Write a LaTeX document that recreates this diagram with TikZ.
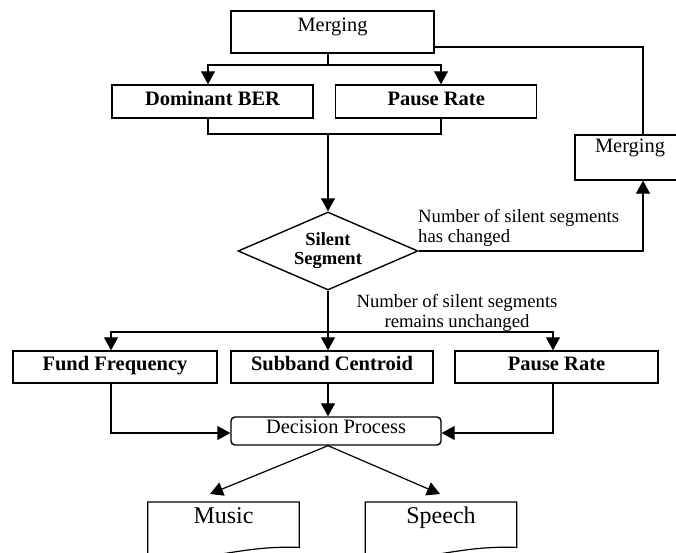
\documentclass[tikz,border=0pt]{standalone}
\usepackage{fontspec}
\setmainfont{Liberation Serif}
\usetikzlibrary{arrows.meta,shapes.geometric,calc}

\newcommand\fsz[2]{\fontsize{#1}{#2}\selectfont}

\begin{document}
\begin{tikzpicture}[x=1pt,y=-1pt,
  every node/.style={inner sep=0pt},
  conn/.style={line width=1.2pt},
  arr/.style={-{Triangle[width=14pt,length=13pt]}},
  box/.style={draw, line width=1.4pt, rectangle},
  plainbox/.style={box, font=\fsz{20.4}{24}},
  boldbox/.style={box, font=\fsz{20.5}{24}\bfseries,
    text height=12pt, text depth=4.5pt},
  doctext/.style={font=\fsz{24}{28}, minimum width=151pt,
    minimum height=45pt, text height=14pt, text depth=17pt},
  docline/.style={draw, line width=1.2pt},
  note/.style={font=\fsz{18.7}{19.5}}
]
\useasboundingbox (0,0) rectangle (676,552);
\clip (0,0) rectangle (676,552);
\fill[white] (0,0) rectangle (676,552);

% column positions of the connectors
\coordinate (spine) at (328,0);
\coordinate (colA) at (208,0);
\coordinate (colB) at (441,0);
\coordinate (colR) at (643,0);
\coordinate (colL) at (111,0);
\coordinate (colP) at (553,0);
\coordinate (fork1) at (328,65);
\coordinate (join1) at (328,134);
\coordinate (fork2) at (328,332);

% boxes
\node[plainbox, minimum width=203pt, minimum height=42pt,
      text height=12pt, text depth=14pt] (merge1) at (332.5,32) {Merging};
\node[boldbox, minimum width=201pt, minimum height=33pt] (dom) at (212.5,101.5) {Dominant BER};
\node[boldbox, minimum width=201pt, minimum height=33pt] (pause1) at (436.2,101.5) {Pause Rate};
\node[draw, line width=1.4pt, shape=diamond, aspect=2.3, minimum width=180pt,
      minimum height=78pt, align=center, font=\fsz{18.5}{19}\bfseries]
      (silent) at (328,251) {Silent\\Segment};
\node[plainbox, minimum width=110pt, minimum height=45pt,
      text height=12pt, text depth=23pt] (merge2) at (630,157.5) {Merging};
\node[boldbox, minimum width=204pt, minimum height=32pt] (fund) at (115,367) {Fund Frequency};
\node[boldbox, minimum width=202pt, minimum height=32pt] (sub) at (332,367) {Subband Centroid};
\node[boldbox, minimum width=203pt, minimum height=32pt] (pause2) at (556.5,367) {Pause Rate};
\node[plainbox, rounded corners=4pt, minimum width=210pt, minimum height=28pt,
      text height=12pt, text depth=8pt] (decision) at (336,431) {Decision Process};
\node[doctext, anchor=north] (music) at (223.5,502) {Music};
\node[doctext, anchor=north] (speech) at (441,502) {Speech};

% document outlines with a wavy lower edge
\foreach \d in {music,speech}{
  \draw[docline] ($(\d.south west)+(0,15)$) -- (\d.north west) -- (\d.north east)
    -- (\d.south east)
    .. controls ($(\d.south east)+(-29,-1)$) and ($(\d.south east)+(-49,2)$)
    .. ($(\d.south east)+(-74,6)$)
    .. controls ($(\d.south east)+(-99,10)$) and ($(\d.south east)+(-129,15)$)
    .. ($(\d.south west)+(0,15)$);
}

% labels
\node[note, anchor=west, align=left] (lblchg) at (418,228)
  {Number of silent segments\\has changed};
\node[note, align=center] (lblkeep) at (457,313)
  {Number of silent segments\\remains unchanged};

% connectors
\draw[conn] (spine |- merge1.south) -- (fork1);
\draw[conn,arr] (fork1) -| (colA |- dom.north);
\draw[conn,arr] (fork1) -| (colB |- pause1.north);
\draw[conn] (colA |- dom.south) -- (colA |- join1) -- (colB |- join1) -- (colB |- pause1.south);
\draw[conn,arr] (join1) -- (silent.north);

\draw[conn,arr] (silent.east) -| (colR |- merge2.south);
\draw[conn] (colR |- merge2.north) |- ([yshift=-15pt]merge1.east);

\draw[conn] (silent.south) -- (fork2);
\draw[conn,arr] (fork2) -| (colL |- fund.north);
\draw[conn,arr] (fork2) -| (colP |- pause2.north);
\draw[conn,arr] (fork2) -- (spine |- sub.north);
\draw[conn,arr] (spine |- sub.south) -- (spine |- decision.north);
\draw[conn,arr] (colL |- fund.south) |- ([yshift=-2pt]decision.west);
\draw[conn,arr] (colP |- pause2.south) |- ([yshift=-2pt]decision.east);
\draw[conn,arr] (spine |- decision.south) -- ($(music.north)+(-13.5,-8)$);
\draw[conn,arr] (spine |- decision.south) -- ($(speech.north)+(-1,-8)$);
\end{tikzpicture}
\end{document}
